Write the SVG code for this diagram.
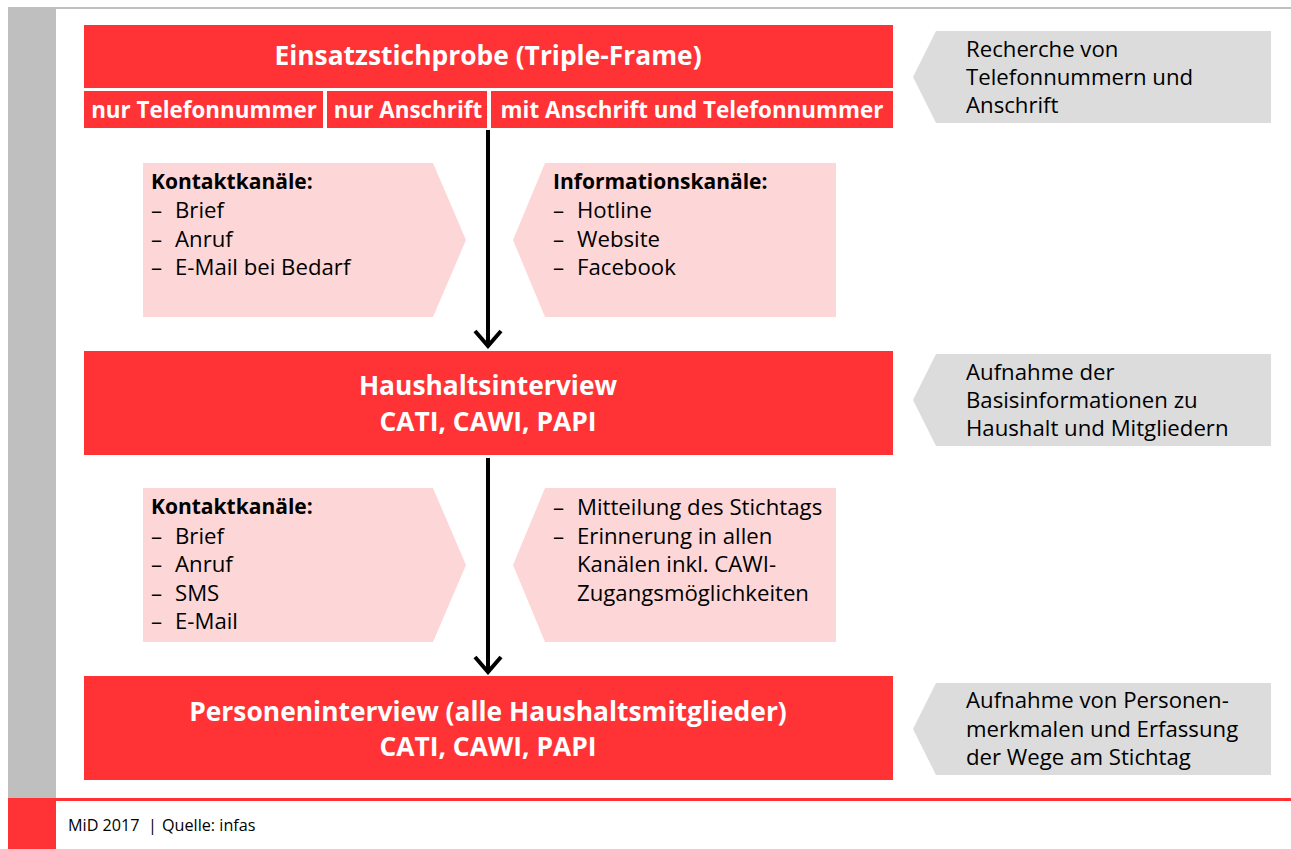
<svg xmlns="http://www.w3.org/2000/svg" width="1291" height="849" viewBox="0 0 1291 849">
<defs>
<style>
.red{fill:#ff3336}
.pink{fill:#fdd7d7}
.gray{fill:#dcdcdc}
.hd{font-family:"Open Sans","Liberation Sans",sans-serif;font-weight:bold;fill:#fff;text-anchor:middle;font-size:26.4px}
.sub{font-family:"Open Sans","Liberation Sans",sans-serif;font-weight:bold;fill:#fff;font-size:22.4px;text-anchor:middle}
.tx{font-family:"Open Sans","Liberation Sans",sans-serif;font-size:22.2px;fill:#000}
.b{font-weight:bold;font-size:21px}
.conn{stroke:#000;stroke-width:4;fill:none}
</style>
<marker id="arr" viewBox="0 0 20 30" refX="17" refY="15" markerWidth="20" markerHeight="30" markerUnits="userSpaceOnUse" orient="auto">
<path d="M2,2 L17,15 L2,28" stroke="#000" stroke-width="4" fill="none"/>
</marker>
</defs>
<rect width="1291" height="849" fill="#fff"/>
<rect x="8" y="7" width="1283" height="2" fill="#bfbfbf"/>
<rect x="8" y="9" width="48" height="789" fill="#bfbfbf"/>
<rect x="8" y="798" width="48" height="51" fill="#ff3336"/>
<rect x="56" y="798" width="1235" height="3" fill="#ff3336"/>
<text font-family="'Open Sans','Liberation Sans',sans-serif" font-size="16.2" fill="#000"><tspan x="68" y="831">MiD 2017</tspan><tspan x="148" y="831">|</tspan><tspan x="162" y="831">Quelle: infas</tspan></text>

<g id="einsatzstichprobe">
<rect class="red" x="84" y="25" width="809" height="63"/>
<text class="hd" x="488" y="65">Einsatzstichprobe (Triple-Frame)</text>
<rect class="red" x="84" y="91" width="239" height="37"/>
<rect class="red" x="327" y="91" width="160" height="37"/>
<rect class="red" x="491" y="91" width="402" height="37"/>
<text class="sub" x="204" y="118">nur Telefonnummer</text>
<text class="sub" x="408" y="118">nur Anschrift</text>
<text class="sub" x="692" y="118">mit Anschrift und Telefonnummer</text>
</g>

<g id="note1">
<polygon class="gray" points="936,31 1271,31 1271,123 936,123 913,77"/>
<text class="tx"><tspan x="966" y="57">Recherche von</tspan><tspan x="966" y="85">Telefonnummern und</tspan><tspan x="966" y="113">Anschrift</tspan></text>
</g>

<g id="kontakt1">
<polygon class="pink" points="143,163 433,163 466,240 433,317 143,317"/>
<text class="tx"><tspan class="b" x="151" y="189">Kontaktkanäle:</tspan><tspan x="151" y="218">–</tspan><tspan x="175" y="218">Brief</tspan><tspan x="151" y="247">–</tspan><tspan x="175" y="247">Anruf</tspan><tspan x="151" y="275">–</tspan><tspan x="175" y="275">E-Mail bei Bedarf</tspan></text>
</g>

<g id="info1">
<polygon class="pink" points="545,163 836,163 836,317 545,317 513,240"/>
<text class="tx"><tspan class="b" x="553" y="189">Informationskanäle:</tspan><tspan x="553" y="218">–</tspan><tspan x="577" y="218">Hotline</tspan><tspan x="553" y="247">–</tspan><tspan x="577" y="247">Website</tspan><tspan x="553" y="275">–</tspan><tspan x="577" y="275">Facebook</tspan></text>
</g>

<g id="haushaltsinterview">
<rect class="red" x="84" y="351" width="809" height="104"/>
<text class="hd"><tspan x="488" y="395">Haushaltsinterview</tspan><tspan x="488" y="431">CATI, CAWI, PAPI</tspan></text>
</g>

<g id="note2">
<polygon class="gray" points="936,354 1271,354 1271,446 936,446 913,400"/>
<text class="tx"><tspan x="966" y="380">Aufnahme der</tspan><tspan x="966" y="408">Basisinformationen zu</tspan><tspan x="966" y="436">Haushalt und Mitgliedern</tspan></text>
</g>

<g id="kontakt2">
<polygon class="pink" points="143,488 433,488 466,565 433,642 143,642"/>
<text class="tx"><tspan class="b" x="151" y="514">Kontaktkanäle:</tspan><tspan x="151" y="544">–</tspan><tspan x="175" y="544">Brief</tspan><tspan x="151" y="572">–</tspan><tspan x="175" y="572">Anruf</tspan><tspan x="151" y="601">–</tspan><tspan x="175" y="601">SMS</tspan><tspan x="151" y="629">–</tspan><tspan x="175" y="629">E-Mail</tspan></text>
</g>

<g id="info2">
<polygon class="pink" points="545,488 836,488 836,642 545,642 513,565"/>
<text class="tx"><tspan x="553" y="515">–</tspan><tspan x="577" y="515">Mitteilung des Stichtags</tspan><tspan x="553" y="544">–</tspan><tspan x="577" y="544">Erinnerung in allen</tspan><tspan x="577" y="572">Kanälen inkl. CAWI-</tspan><tspan x="577" y="601">Zugangsmöglichkeiten</tspan></text>
</g>

<g id="personeninterview">
<rect class="red" x="84" y="676" width="809" height="104"/>
<text class="hd"><tspan x="488" y="721">Personeninterview (alle Haushaltsmitglieder)</tspan><tspan x="488" y="756">CATI, CAWI, PAPI</tspan></text>
</g>

<g id="note3">
<polygon class="gray" points="936,683 1271,683 1271,775 936,775 913,729"/>
<text class="tx"><tspan x="966" y="708">Aufnahme von Personen-</tspan><tspan x="966" y="737">merkmalen und Erfassung</tspan><tspan x="966" y="765">der Wege am Stichtag</tspan></text>
</g>

<g id="connectors">
<line class="conn" x1="488" y1="130" x2="488" y2="346" marker-end="url(#arr)"/>
<line class="conn" x1="488" y1="458" x2="488" y2="672" marker-end="url(#arr)"/>
</g>
</svg>
